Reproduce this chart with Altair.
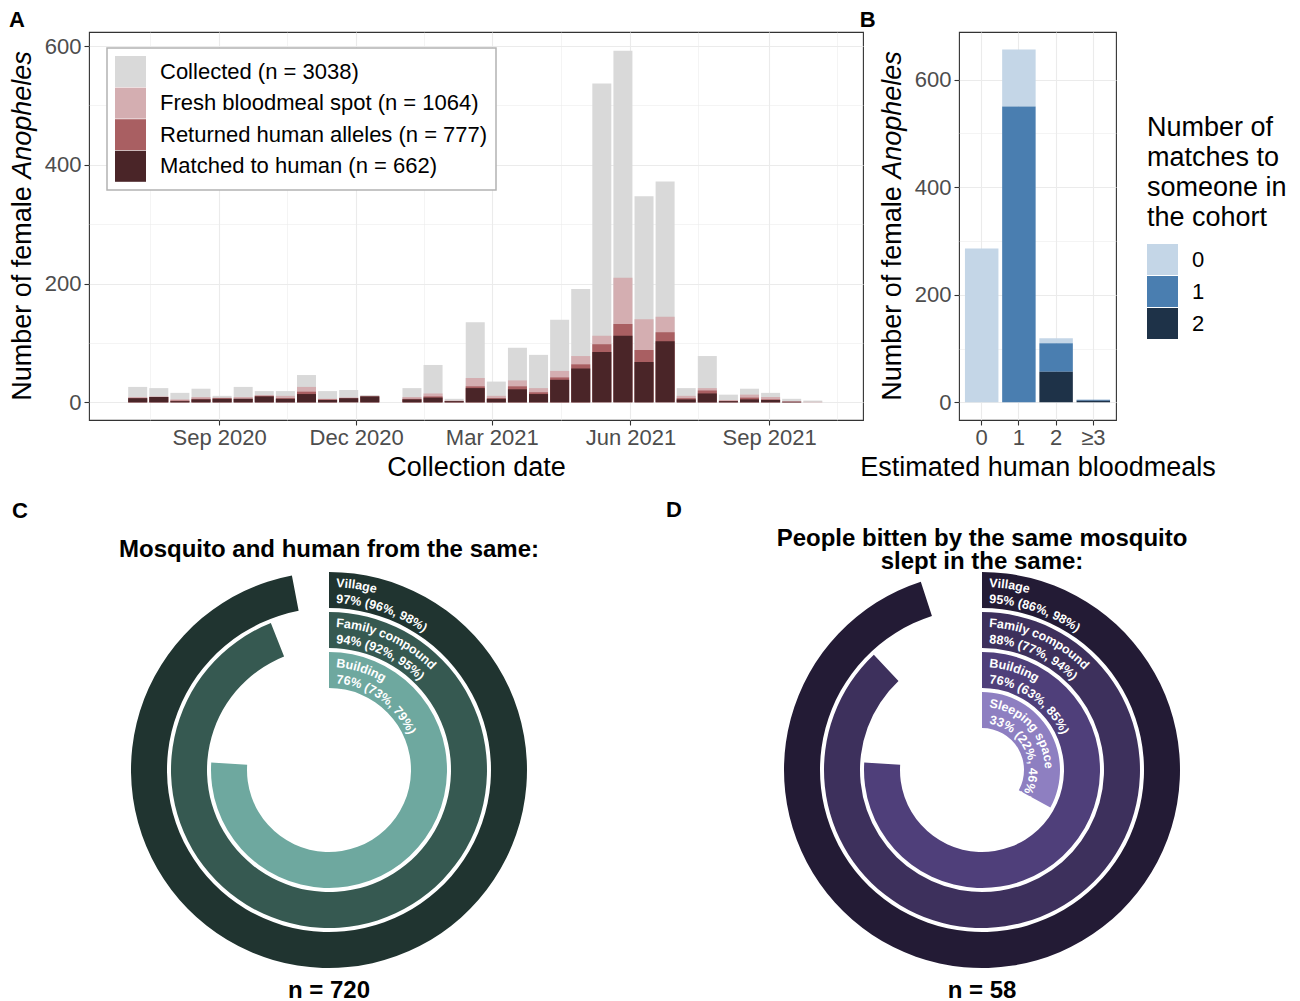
import math
import altair as alt
import pandas as pd

FONT = "Liberation Sans"

# ---------------- Panel A data (biweekly collection bins, bin centre dates) ----------------
bin_dates = [
    "2020-07-09", "2020-07-23", "2020-08-06", "2020-08-20", "2020-09-03", "2020-09-17",
    "2020-10-01", "2020-10-15", "2020-10-29", "2020-11-12", "2020-11-26", "2020-12-10",
    "2020-12-24", "2021-01-07", "2021-01-21", "2021-02-04", "2021-02-18", "2021-03-04",
    "2021-03-18", "2021-04-01", "2021-04-15", "2021-04-29", "2021-05-13", "2021-05-27",
    "2021-06-10", "2021-06-24", "2021-07-08", "2021-07-22", "2021-08-05", "2021-08-19",
    "2021-09-02", "2021-09-16", "2021-09-30",
]
collected = [26, 24, 16, 23, 11, 26, 19, 19, 46, 19, 21, 12, 0, 24, 63, 6, 135, 35, 92, 80,
             139, 191, 537, 592, 347, 372, 24, 78, 13, 23, 16, 6, 3]
fresh = [9, 10, 5, 9, 8, 9, 12, 11, 26, 6, 8, 11, 0, 9, 15, 3, 41, 11, 37, 24,
         53, 78, 112, 210, 140, 144, 11, 24, 4, 13, 9, 2, 1]
returned = [7, 9, 3, 6, 7, 6, 11, 7, 18, 5, 7, 10, 0, 6, 10, 2, 27, 7, 27, 17,
            42, 64, 98, 132, 88, 118, 7, 20, 2, 8, 5, 1, 0]
matched = [7, 9, 2, 5, 6, 6, 10, 6, 14, 4, 7, 10, 0, 5, 8, 2, 24, 6, 22, 14,
           38, 57, 85, 112, 68, 103, 5, 15, 2, 5, 4, 1, 0]

stage_names = ["Collected (n = 3038)", "Fresh bloodmeal spot (n = 1064)",
               "Returned human alleles (n = 777)", "Matched to human (n = 662)"]
stage_colors = ["#d9d9d9", "#d4aeb1", "#a95f62", "#4a2528"]

major_dates = [alt.DateTime(year=2020, month=9, date=1), alt.DateTime(year=2020, month=12, date=1),
               alt.DateTime(year=2021, month=3, date=1), alt.DateTime(year=2021, month=6, date=1),
               alt.DateTime(year=2021, month=9, date=1)]
minor_dates = [alt.DateTime(year=2020, month=7, date=17), alt.DateTime(year=2020, month=10, date=16),
               alt.DateTime(year=2021, month=1, date=15), alt.DateTime(year=2021, month=4, date=16),
               alt.DateTime(year=2021, month=7, date=16), alt.DateTime(year=2021, month=10, date=16)]

# ---------------- Panel B data ----------------
meal_labels = ["0", "1", "2", "≥3"]
match_labels = ["0", "1", "2"]
match_colors = ["#c4d6e7", "#4a7eb0", "#1e3248"]
# counts[meal][match]
b_counts = {
    "0": [286, 0, 0],
    "1": [106, 550, 0],
    "2": [9, 53, 57],
    "≥3": [0, 2, 3],
}

# ---------------- Panels C and D data ----------------
c_names = ["Village", "Family compound", "Building"]
c_pct = [97, 94, 76]
c_lo = [96, 92, 73]
c_hi = [98, 95, 79]
c_colors = ["#203430", "#365951", "#6ea89f"]

d_names = ["Village", "Family compound", "Building", "Sleeping space"]
d_pct = [95, 88, 76, 33]
d_lo = [86, 77, 63, 22]
d_hi = [98, 94, 85, 46]
d_colors = ["#231b35", "#3d305c", "#4f3f7a", "#8e7fc1"]

ring_level = {"Village": 4, "Family compound": 3, "Building": 2, "Sleeping space": 1}

# ---------------- helpers ----------------
CW = {' ': 278, '%': 889, '(': 333, ')': 333, ',': 278, '.': 278, ':': 278, '=': 584, '≥': 549,
      'A': 667, 'B': 667, 'C': 722, 'D': 722, 'E': 667, 'F': 611, 'G': 778, 'H': 722, 'I': 278,
      'J': 500, 'K': 667, 'L': 556, 'M': 833, 'N': 722, 'O': 778, 'P': 667, 'Q': 778, 'R': 722,
      'S': 667, 'T': 611, 'U': 722, 'V': 667, 'W': 944, 'X': 667, 'Y': 667, 'Z': 611,
      'a': 556, 'b': 556, 'c': 500, 'd': 556, 'e': 556, 'f': 278, 'g': 556, 'h': 556, 'i': 222,
      'j': 222, 'k': 500, 'l': 222, 'm': 833, 'n': 556, 'o': 556, 'p': 556, 'q': 556, 'r': 333,
      's': 500, 't': 278, 'u': 556, 'v': 500, 'w': 722, 'x': 500, 'y': 500, 'z': 500}
# bold glyph advance widths (1/1000 em) for the ring labels
CWB = {' ': 278, '%': 889, '(': 333, ')': 333, ',': 278, 'B': 722, 'F': 611, 'S': 667, 'V': 667,
       'a': 556, 'b': 611, 'c': 556, 'd': 611, 'e': 556, 'f': 333, 'g': 611, 'h': 611, 'i': 278,
       'l': 278, 'm': 889, 'n': 611, 'o': 611, 'p': 611, 'u': 611, 'y': 556, 's': 556, 'r': 389,
       't': 333}


def text_w(s, size):
    return sum(CW.get(ch, 556) for ch in s) / 1000.0 * size


R0, RSTEP = 20.0, 40.0  # radius scale: level domain [0, 5] -> [20, 220] px


def level_px(level):
    return R0 + RSTEP * level


def px_level(px):
    return (px - R0) / RSTEP


LABEL_SIZE = 12.5


def curved_chars(label, r_px, size=LABEL_SIZE, start=7):
    out = []
    s = start
    for ch in label:
        w = CWB.get(ch, 556) / 1000.0 * size
        ang = (s + w / 2.0) / r_px
        if ch != " ":
            out.append({"ch": ch, "t": ang / (2 * math.pi) * 100.0,
                        "r": px_level(r_px), "a": math.degrees(ang)})
        s += w
    return out


def y_title_layers(h):
    size = 27
    w1 = text_w("Number of female", size)
    wsp = text_w(" ", size)
    w2 = text_w("Anopheles", size)
    total = w1 + wsp + w2
    y_start = h / 2.0 + total / 2.0
    y1 = y_start - w1
    y2 = y1 - wsp
    t1 = alt.Chart(pd.DataFrame({"t": ["Number of female"]})).mark_text(
        angle=270, align="right", baseline="alphabetic", fontSize=size, font=FONT, color="black"
    ).encode(text="t:N", x=alt.value(-58), y=alt.value(y1))
    t2 = alt.Chart(pd.DataFrame({"t": ["Anopheles"]})).mark_text(
        angle=270, align="left", baseline="alphabetic", fontSize=size, font=FONT, color="black",
        fontStyle="italic"
    ).encode(text="t:N", x=alt.value(-58), y=alt.value(y2))
    return [t1, t2]


def y_count_axis():
    return alt.Axis(
        values=[0, 100, 200, 300, 400, 500, 600],
        labelExpr="datum.value % 200 == 0 ? datum.label : ''",
        title=None,
        gridWidth={"condition": {"test": "datum.value % 200 == 0", "value": 1.1}, "value": 0.55},
        tickOpacity={"condition": {"test": "datum.value % 200 == 0", "value": 1}, "value": 0},
        labelPadding=3,
    )


# ---------------- Panel A ----------------
A_W, A_H = 774, 388
rowsA = []
for k, (name, vals) in enumerate(zip(stage_names, [collected, fresh, returned, matched])):
    for d, v in zip(bin_dates, vals):
        rowsA.append({"date": d + "T00:00:00", "stage": name, "ord": k, "count": v})
dfA = pd.DataFrame(rowsA)

barsA = alt.Chart(dfA).mark_bar(size=19).encode(
    x=alt.X("date:T",
            scale=alt.Scale(domain=[alt.DateTime(year=2020, month=6, date=10),
                                    alt.DateTime(year=2021, month=10, date=30)]),
            axis=alt.Axis(
                values=major_dates + minor_dates,
                labelExpr="date(datum.value) == 1 ? timeFormat(datum.value, '%b %Y') : ''",
                gridWidth={"condition": {"test": "date(datum.value) == 1", "value": 1.1}, "value": 0.55},
                tickOpacity={"condition": {"test": "date(datum.value) == 1", "value": 1}, "value": 0},
                labelOverlap=False, labelFlush=False, title="Collection date", titlePadding=6,
                labelPadding=2,
            )),
    y=alt.Y("count:Q", stack=None, scale=alt.Scale(domain=[-29.7, 623.7], nice=False, zero=False),
            axis=y_count_axis()),
    color=alt.Color("stage:N", scale=alt.Scale(domain=stage_names, range=stage_colors),
                    legend=alt.Legend(title=None, orient="none", legendX=18, legendY=16,
                                      symbolType="square", symbolSize=961, symbolStrokeWidth=0,
                                      symbolOpacity=1, labelFontSize=22, labelOffset=14,
                                      rowPadding=0.6, padding=8, fillColor="white",
                                      strokeColor="#b3b3b3", labelLimit=600,
                                      labelColor="black")),
    order=alt.Order("ord:Q"),
)

panelA = alt.layer(barsA, *y_title_layers(A_H)).properties(
    width=A_W, height=A_H,
    title=alt.Title("A", anchor="start", frame="bounds", fontSize=22, fontWeight="bold", offset=0),
    view=alt.ViewBackground(stroke="#333333", strokeWidth=1.1),
)

# ---------------- Panel B ----------------
B_W = 157
rowsB = []
for meal in meal_labels:
    for m, c in zip(match_labels, b_counts[meal]):
        rowsB.append({"meals": meal, "matches": m, "count": c})
dfB = pd.DataFrame(rowsB)

barsB = alt.Chart(dfB).mark_bar().encode(
    x=alt.X("meals:N", sort=meal_labels,
            scale=alt.Scale(paddingInner=0.1, paddingOuter=0.16),
            axis=alt.Axis(bandPosition=0.5, grid=True, gridWidth=1.1, labelAngle=0,
                          title="Estimated human bloodmeals", titlePadding=6, labelPadding=2)),
    y=alt.Y("count:Q", stack=True, scale=alt.Scale(domain=[-32.8, 688.6], nice=False, zero=False),
            axis=y_count_axis()),
    color=alt.Color("matches:N", scale=alt.Scale(domain=match_labels, range=match_colors),
                    legend=alt.Legend(title=["Number of", "matches to", "someone in", "the cohort"],
                                      orient="none", legendX=188, legendY=83,
                                      titleFontSize=27, titleLineHeight=30, titleFontWeight="normal",
                                      titleColor="black", titlePadding=12, titleLimit=400,
                                      symbolType="square", symbolSize=961, symbolStrokeWidth=0,
                                      symbolOpacity=1, labelFontSize=22, labelOffset=14,
                                      rowPadding=1, labelColor="black")),
    order=alt.Order("matches:N", sort="descending"),
)

panelB = alt.layer(barsB, *y_title_layers(A_H)).properties(
    width=B_W, height=A_H,
    title=alt.Title("B", anchor="start", frame="bounds", fontSize=22, fontWeight="bold", offset=0),
    view=alt.ViewBackground(stroke="#333333", strokeWidth=1.1),
)

# ---------------- Panels C and D (radial bars) ----------------
TH = alt.Scale(domain=[0, 100], range=[0, 2 * math.pi])
RS = alt.Scale(type="linear", domain=[0, 5], range=[20, 220], zero=False)
DON_W, DON_H = 480, 420


def donut(names, pct, lo, hi, colors, title_text, title_r, n_text, letter, letter_dx,
          letter_offset):
    levels = [ring_level[n] for n in names]
    arcs = pd.DataFrame({
        "ring": names, "zero": [0] * len(names), "pct": pct,
        "r_out": [l + 0.45 for l in levels], "r_in": [l - 0.45 for l in levels],
    })
    chars = []
    for n, p, a, b, l in zip(names, pct, lo, hi, levels):
        outer = level_px(l + 0.45)
        chars += curved_chars(n, outer - 15)
        chars += curved_chars(f"{p}% ({a}%, {b}%)", outer - 31)
    dfc = pd.DataFrame(chars)

    arc = alt.Chart(arcs).mark_arc().encode(
        theta=alt.Theta("zero:Q", scale=TH, stack=None),
        theta2=alt.Theta2("pct:Q"),
        radius=alt.Radius("r_out:Q", scale=RS),
        radius2=alt.Radius2("r_in:Q"),
        color=alt.Color("ring:N", scale=alt.Scale(domain=names, range=colors), legend=None),
    )
    txt = alt.Chart(dfc).mark_text(color="white", fontSize=LABEL_SIZE, font=FONT, align="center",
                                   baseline="alphabetic", fontWeight="bold").encode(
        theta=alt.Theta("t:Q", scale=TH, stack=None),
        radius=alt.Radius("r:Q", scale=RS),
        angle=alt.Angle("a:Q", scale=None),
        text="ch:N",
    )
    ttl = alt.Chart(pd.DataFrame({"txt": [title_text], "t": [0], "r": [px_level(title_r)]})).mark_text(
        fontSize=24, font=FONT, color="black", align="center", baseline="middle", lineHeight=23,
        fontWeight="bold",
    ).encode(
        theta=alt.Theta("t:Q", scale=TH, stack=None),
        radius=alt.Radius("r:Q", scale=RS),
        text="txt",
    )
    nn = alt.Chart(pd.DataFrame({"txt": [n_text], "t": [50], "r": [px_level(221)]})).mark_text(
        fontSize=24, font=FONT, color="black", align="center", baseline="middle",
        fontWeight="bold",
    ).encode(
        theta=alt.Theta("t:Q", scale=TH, stack=None),
        radius=alt.Radius("r:Q", scale=RS),
        text="txt:N",
    )
    return alt.layer(arc, txt, ttl, nn).properties(
        width=DON_W, height=DON_H,
        title=alt.Title(letter, anchor="start", frame="group", fontSize=22, fontWeight="bold",
                        dx=letter_dx, offset=letter_offset),
    )


panelC = donut(c_names, c_pct, c_lo, c_hi, c_colors, "Mosquito and human from the same:", 220,
               "n = 720", "C", -77, 15)
panelD = donut(d_names, d_pct, d_lo, d_hi, d_colors,
               ["People bitten by the same mosquito", "slept in the same:"], 231,
               "n = 58", "D", -76, 5)

top = alt.hconcat(panelA, panelB, spacing=96, bounds="flush").resolve_scale(color="independent")
bottom = alt.hconcat(panelC, panelD, spacing=173, bounds="flush").resolve_scale(color="independent")

chart = alt.vconcat(top, bottom, spacing=17).resolve_scale(
    color="independent"
).properties(
    padding={"left": 0, "top": 0, "right": 0, "bottom": 0}
).configure(font=FONT).configure_view(strokeWidth=0).configure_axis(
    labelFont=FONT, labelFontSize=22, labelColor="#4d4d4d", tickColor="#333333", tickSize=5,
    tickWidth=1.1, titleFont=FONT, titleFontSize=27, titleColor="black", titleFontWeight="normal",
    gridColor="#ebebeb", domain=False,
).configure_legend(labelFont=FONT, titleFont=FONT, strokeWidth=1.5).configure_title(font=FONT, color="black")

chart.save("out.html", embed_options={"renderer": "svg", "actions": False})
